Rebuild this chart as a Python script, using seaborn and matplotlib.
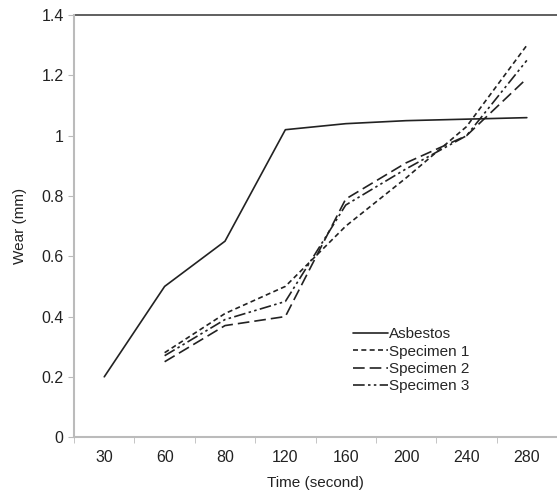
import matplotlib
matplotlib.use("Agg")
import matplotlib.pyplot as plt
import matplotlib.ticker as mticker
import seaborn as sns
import pandas as pd
import numpy as np

times = ["30", "60", "80", "120", "160", "200", "240", "280"]
asbestos = [0.20, 0.50, 0.65, 1.02, 1.04, 1.05, 1.055, 1.06]
specimen1 = [np.nan, 0.28, 0.41, 0.50, 0.70, 0.86, 1.03, 1.30]
specimen2 = [np.nan, 0.25, 0.37, 0.40, 0.79, 0.91, 1.00, 1.19]
specimen3 = [np.nan, 0.27, 0.39, 0.45, 0.77, 0.89, 1.00, 1.25]
series_names = ["Asbestos", "Specimen 1", "Specimen 2", "Specimen 3"]

frames = []
for name, vals in zip(series_names, [asbestos, specimen1, specimen2, specimen3]):
    frames.append(pd.DataFrame({"Time": times, "Wear": vals, "series": name}))
df = pd.concat(frames).dropna()

sns.set_style("white")
plt.rcParams["font.family"] = ["Liberation Sans", "DejaVu Sans"]

fig = plt.figure(figsize=(5.57, 4.9), dpi=100)
ax = fig.add_axes([0.133, 0.108, 0.867, 0.861])

dashes = {
    "Asbestos": "",
    "Specimen 1": (3, 2),
    "Specimen 2": (7, 3),
    "Specimen 3": (7, 2, 1.5, 2, 1.5, 2),
}
sns.lineplot(data=df, x="Time", y="Wear", style="series", dashes=dashes,
             color="#222222", linewidth=1.2, sort=False, ax=ax, legend=False)

ax.set_xlim(-0.5, 7.5)
ax.set_ylim(0, 1.4)
ax.set_yticks(np.arange(0, 1.41, 0.2))
ax.yaxis.set_major_formatter(mticker.FuncFormatter(lambda v, p: f"{v:g}"))
ax.axhline(1.4, color="#444444", linewidth=1.2, clip_on=False)

ax.set_xticks(range(len(times)))
ax.set_xticklabels(times)
ax.set_xticks(np.arange(-0.5, 7.6, 1), minor=True)
ax.tick_params(axis="x", which="major", length=0, labelsize=11.5, pad=9, colors="#222222")
ax.tick_params(axis="x", which="minor", length=4, color="#bbbbbb", direction="out")
ax.tick_params(axis="y", which="major", length=4, direction="out",
               labelsize=11.5, labelcolor="#222222", color="#bbbbbb")
ax.xaxis.set_ticks_position("bottom")
ax.yaxis.set_ticks_position("left")

for side in ["top", "right"]:
    ax.spines[side].set_visible(False)
for side in ["left", "bottom"]:
    ax.spines[side].set_color("#bbbbbb")
    ax.spines[side].set_linewidth(1.5)

ax.set_xlabel("Time (second)", fontsize=11, color="#222222", labelpad=8)
ax.set_ylabel("Wear (mm)", fontsize=11, color="#222222", labelpad=10)

handles = ax.get_lines()[:4]
ax.legend(handles, series_names, loc="upper left", bbox_to_anchor=(0.565, 0.275),
          frameon=False, fontsize=11, handlelength=2.3, handletextpad=0.05,
          labelspacing=0.22, borderaxespad=0)

fig.savefig("out.png", dpi=100)
